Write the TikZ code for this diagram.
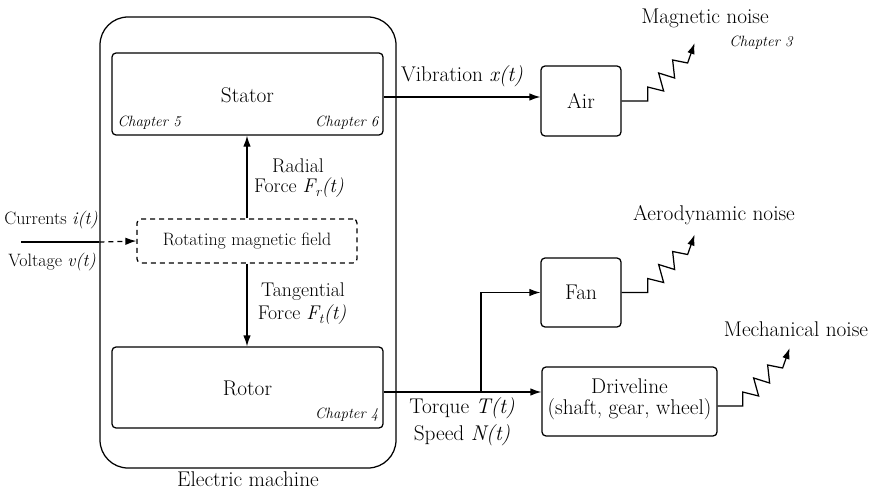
\documentclass[tikz,border=0pt]{standalone}
\usepackage{fontspec}
\usetikzlibrary{arrows.meta,calc}
\newcommand{\fsBig}{\fontsize{21.3}{25}\selectfont}
\newcommand{\fsMid}{\fontsize{19.8}{23}\selectfont}
\newcommand{\fsSml}{\fontsize{17.9}{21}\selectfont}
\newcommand{\fsChap}{\fontsize{14.9}{17}\selectfont}
\begin{document}
\begin{tikzpicture}[x=1pt,y=-1pt,
  line width=1.25pt,
  arr/.style={-{Latex[length=11pt,width=7.5pt]}},
  box/.style={draw,rounded corners=4pt,inner sep=0pt},
  lbl/.style={inner sep=0pt,font=\fsBig},
  chap/.style={inner sep=0pt,font=\fsChap\itshape},
]
\useasboundingbox (0,0) rectangle (874,492);
% machine
\node[draw,rounded corners=28pt,minimum width=296pt,minimum height=451pt,inner sep=0pt] (machine) at (248,242.5) {};
\node[lbl] (emlbl) at (248,479) {Electric machine};
% stator, rotor, field
\node[box,minimum width=271pt,minimum height=82pt] (stator) at (247.5,94) {};
\node[lbl] (statorlbl) at (247.5,95) {Stator};
\node[chap,anchor=west] (ch5) at (117,123) {Chapter 5};
\node[chap,anchor=east] (ch6) at (379,123) {Chapter 6};
\node[box,minimum width=271pt,minimum height=81pt] (rotor) at (247.5,387.5) {};
\node[lbl] (rotorlbl) at (247.5,388) {Rotor};
\node[chap,anchor=east] (ch4) at (379,415) {Chapter 4};
\node[draw,dashed,dash pattern=on 5pt off 4pt,rounded corners=4pt,minimum width=220pt,minimum height=44pt,inner sep=0pt,font=\fsSml] (rmf) at (247,241) {Rotating magnetic field};
% inputs
\coordinate (inp) at (21,242);
\node[inner sep=0pt,font=\fsSml] (cur) at (51,220) {Currents \textit{i(t)}};
\node[inner sep=0pt,font=\fsSml] (vol) at (52,262) {Voltage \textit{v(t)}};
\draw (inp) -- (inp -| machine.west);
\draw[arr,dash pattern=on 5pt off 4pt] (inp -| machine.west) -- (rmf.west);
% forces
\draw[arr] (rmf.north) -- (rmf.north |- stator.south);
\draw[arr] (rmf.south) -- (rmf.south |- rotor.north);
\node[inner sep=0pt,font=\fsMid] (rad) at (298,166) {Radial};
\node[inner sep=0pt,font=\fsMid] (radf) at (299,188) {Force \textit{F\textsubscript{r}(t)}};
\node[inner sep=0pt,font=\fsMid] (tan) at (303,292) {Tangential};
\node[inner sep=0pt,font=\fsMid] (tanf) at (302,315) {Force \textit{F\textsubscript{t}(t)}};
% air
\node[box,minimum width=80pt,minimum height=70pt,font=\fsBig] (air) at (581,101) {Air};
\draw[arr] (stator.east) ++(0,3) coordinate (v0) -- (v0 -| air.west);
\node[lbl] (vib) at (462,76) {Vibration \textit{x(t)}};
\draw[arr] (air.east) -- ++(26,0) -- ++(0,-14) -- ++(16,4) -- ++(-5,-18) -- ++(16,5) -- ++(-2,-18) -- ++(15,3) -- ++(7,-20);
\node[lbl] (magn) at (705,18) {Magnetic noise};
\node[chap] (ch3) at (761,43) {Chapter 3};
% fan
\node[box,minimum width=80pt,minimum height=69pt,font=\fsBig] (fan) at (581,292.5) {Fan};
\draw[arr] (fan.east) -- ++(26,0) -- ++(0,-14) -- ++(16,4) -- ++(-5,-18) -- ++(16,5) -- ++(-2,-18) -- ++(15,3) -- ++(7,-20);
\node[lbl] (aero) at (714,215) {Aerodynamic noise};
% driveline
\node[box,minimum width=175pt,minimum height=69pt] (drive) at (629.5,401.5) {};
\node[lbl] (drv1) at (629.5,386) {Driveline};
\node[lbl] (drv2) at (629.5,409) {(shaft, gear, wheel)};
\draw[arr] (drive.east) ++(0,4.5) -- ++(25,0) -- ++(0,-14) -- ++(16,4) -- ++(-5,-18) -- ++(16,5) -- ++(-2,-18) -- ++(15,3) -- ++(7,-20);
\node[lbl] (mech) at (796,329) {Mechanical noise};
% torque
\coordinate (t0) at (rotor.east |- 0,392);
\coordinate (br) at (481,392);
\draw[arr] (t0) -- (t0 -| drive.west);
\draw[arr] (br) -- (br |- fan.west) -- (fan.west);
\node[lbl] (torq) at (462,408) {Torque \textit{T(t)}};
\node[lbl] (spd) at (462,435) {Speed \textit{N(t)}};
\end{tikzpicture}
\end{document}
